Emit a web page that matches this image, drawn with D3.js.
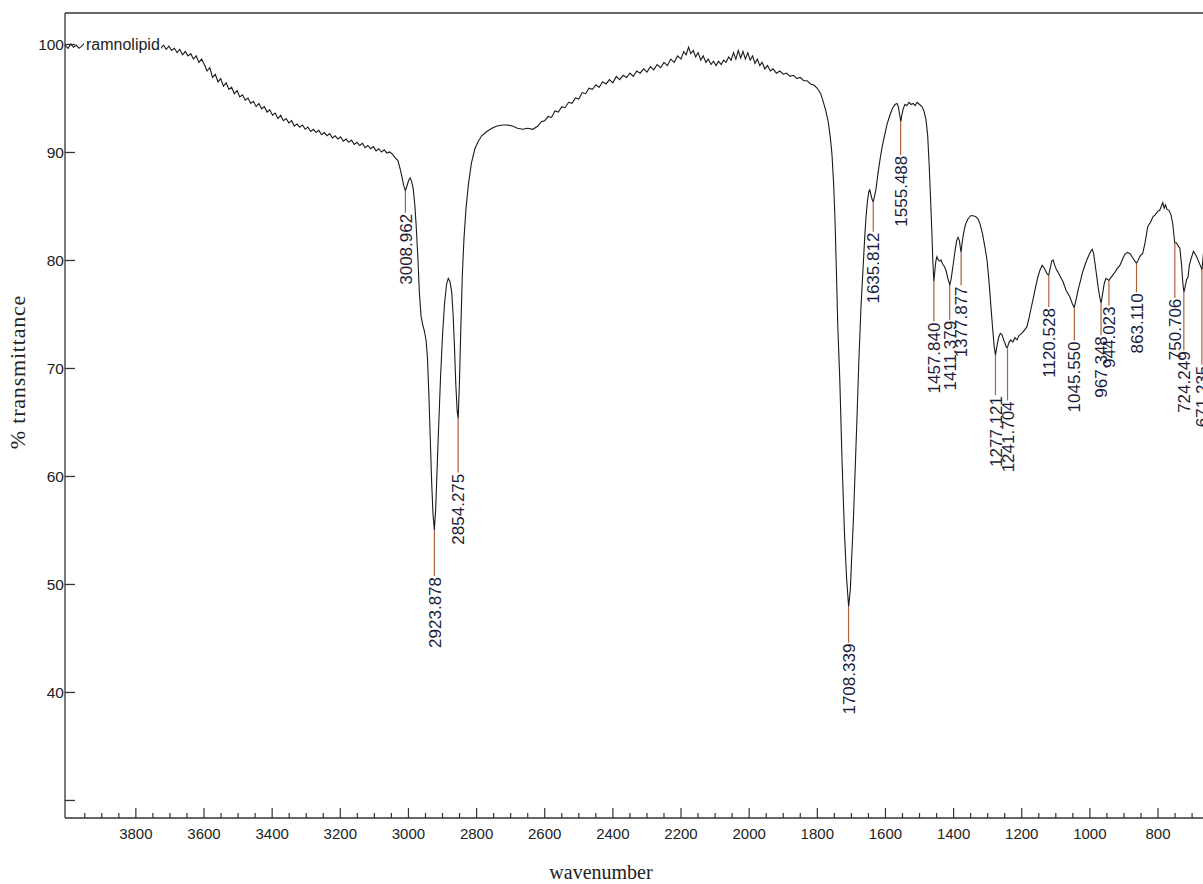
<!DOCTYPE html>
<html>
<head>
<meta charset="utf-8">
<script src="https://cdn.jsdelivr.net/npm/d3@7"></script>
<style>
  body { margin: 0; background: #fff; }
  svg { display: block; }
</style>
</head>
<body>
<div id="chart"></div>
<script>
// spectrum: [wavenumber, % transmittance]
const spectrum = [
  [4008,99.9],[3999,99.6],[3991,100.0],[3983,99.7],[3975,99.9],[3967,99.6],[3959,99.8],[3950,100.1],
  [3900,100.2],[3850,100.1],[3800,100.2],[3760,100.3],[3735,100.0],
  [3727,99.6],[3719,99.9],[3711,99.5],[3703,99.8],[3695,99.4],[3687,99.6],[3679,99.2],[3671,99.5],
  [3663,99.0],[3655,99.3],[3647,98.9],[3639,99.1],[3631,98.6],[3623,98.9],[3615,98.3],[3607,98.6],
  [3599,98.1],[3591,97.5],[3583,97.8],[3575,96.9],[3567,97.2],[3559,96.5],[3551,96.8],[3543,96.1],
  [3535,96.4],[3527,95.8],[3519,96.0],[3511,95.4],[3503,95.7],[3495,95.1],[3487,95.3],[3479,94.8],
  [3471,95.0],[3463,94.5],[3455,94.7],[3447,94.2],[3439,94.5],[3431,94.0],[3423,94.2],[3415,93.7],
  [3407,93.9],[3399,93.4],[3391,93.6],[3383,93.1],[3375,93.4],[3367,92.9],[3359,93.1],[3351,92.7],
  [3343,92.9],[3335,92.4],[3327,92.6],[3319,92.3],[3311,92.5],[3303,92.1],[3295,92.3],[3287,91.9],
  [3279,92.1],[3271,91.8],[3263,92.0],[3255,91.6],[3247,91.8],[3239,91.5],[3231,91.7],[3223,91.3],
  [3215,91.5],[3207,91.2],[3199,91.4],[3191,91.0],[3183,91.2],[3175,90.9],[3167,91.1],[3159,90.7],
  [3151,90.9],[3143,90.6],[3135,90.8],[3127,90.4],[3119,90.6],[3111,90.3],[3103,90.5],[3095,90.1],
  [3087,90.3],[3079,90.0],[3071,90.2],[3063,89.9],[3055,90.0],[3047,89.8],[3040,89.5],[3031,89.2],
  [3024,88.4],[3019,87.7],[3014,86.9],[3009,86.4],[3004,86.9],[2999,87.4],[2995,87.6],[2991,87.3],
  [2986,86.6],[2981,85.0],[2977,83.0],[2972,80.0],[2968,77.0],[2963,74.8],[2958,74.0],[2953,73.4],
  [2948,72.5],[2944,70.8],[2940,67.5],[2936,63.5],[2932,59.5],[2928,56.5],[2924,55.0],[2920,57.0],
  [2916,60.5],[2912,64.0],[2906,69.0],[2900,73.0],[2894,76.0],[2888,77.8],[2883,78.3],[2878,78.0],
  [2873,77.0],[2869,75.0],[2865,72.0],[2861,68.5],[2857,66.0],[2854,65.3],[2850,69.0],[2846,74.0],
  [2842,78.5],[2837,82.0],[2831,84.8],[2824,87.0],[2815,89.0],[2805,90.3],[2795,91.0],[2785,91.5],
  [2770,91.9],[2755,92.2],[2740,92.4],[2725,92.5],[2710,92.5],[2695,92.4],[2680,92.2],[2665,92.1],
  [2650,92.2],[2635,92.1],
  [2620,92.4],[2610,92.8],[2600,92.9],[2590,93.3],[2580,93.2],[2570,93.8],[2560,93.7],[2550,94.2],
  [2540,94.1],[2530,94.6],[2520,94.5],[2510,95.0],[2500,94.9],[2490,95.5],[2480,95.4],[2470,95.9],
  [2460,95.8],[2450,96.2],[2440,96.0],[2430,96.5],[2420,96.3],[2410,96.7],[2400,96.4],[2390,97.0],
  [2380,96.7],[2370,97.1],[2360,96.9],[2350,97.3],[2340,97.0],[2330,97.5],[2320,97.3],[2310,97.7],
  [2300,97.4],[2290,97.9],[2280,97.6],[2270,98.1],[2260,97.8],[2250,98.3],[2240,98.0],[2230,98.6],
  [2220,98.3],[2210,98.9],[2200,98.6],[2192,99.3],[2185,99.0],[2178,99.7],[2171,99.1],[2164,99.4],
  [2157,98.8],[2150,99.2],[2142,98.5],[2135,98.9],[2127,98.3],[2120,98.6],[2112,98.1],[2105,98.4],
  [2097,98.0],[2090,98.4],[2082,98.1],[2075,98.5],[2068,98.3],[2060,98.8],[2053,98.5],[2046,99.2],
  [2039,98.6],[2032,99.4],[2025,98.7],[2018,99.3],[2011,98.6],[2004,99.2],[1997,98.5],[1990,98.9],
  [1983,98.2],[1976,98.6],[1969,98.0],[1962,98.3],[1954,97.7],[1946,98.0],[1938,97.5],[1930,97.7],
  [1920,97.3],[1910,97.5],[1900,97.2],[1890,97.3],[1880,97.0],[1870,97.1],[1860,96.8],[1850,96.9],
  [1840,96.6],[1830,96.6],[1820,96.3],[1810,96.2],[1800,95.9],[1790,95.4],[1782,94.6],[1775,93.8],
  [1768,92.8],[1762,91.4],[1757,89.8],[1752,87.0],[1748,83.7],[1744,79.0],[1740,74.0],[1734,68.9],
  [1727,61.0],[1720,54.5],[1714,50.5],[1708,47.9],[1703,49.5],[1699,52.5],[1694,56.0],[1690,59.6],
  [1684,65.0],[1678,70.7],[1672,75.5],[1666,79.1],[1661,82.0],[1657,84.0],[1653,85.4],[1649,86.3],
  [1646,86.5],[1643,86.1],[1639,85.6],[1636,85.4],[1632,85.9],[1628,86.5],[1622,88.0],[1616,89.3],
  [1609,90.6],[1602,91.6],[1595,92.6],[1587,93.4],[1580,94.0],[1572,94.4],[1566,94.5],[1562,94.2],
  [1558,93.4],[1555,92.8],[1552,93.4],[1548,94.0],[1543,94.4],[1537,94.3],[1531,94.6],[1525,94.4],
  [1519,94.5],[1513,94.3],[1507,94.6],[1500,94.4],[1493,94.2],[1487,93.8],[1481,93.0],[1476,91.5],
  [1472,89.0],[1468,86.0],[1464,82.8],[1461,80.0],[1458,78.0],[1455,79.0],[1452,79.9],[1449,80.3],
  [1445,80.0],[1441,79.9],[1437,80.0],[1432,79.6],[1427,79.4],[1422,79.0],[1417,78.3],[1411,77.7],
  [1407,78.3],[1402,79.4],[1396,80.8],[1391,81.8],[1387,82.1],[1383,81.8],[1380,81.1],[1378,80.7],
  [1375,81.6],[1370,82.6],[1365,83.3],[1358,83.8],[1350,84.1],[1342,84.1],[1335,84.0],[1328,83.8],
  [1322,83.3],[1315,82.4],[1308,81.2],[1302,80.0],[1296,78.0],[1290,75.5],[1285,73.5],[1281,72.0],
  [1277,71.2],[1273,72.0],[1268,72.8],[1263,73.2],[1258,73.1],[1253,72.6],[1248,72.2],[1245,71.9],
  [1242,71.9],[1237,72.4],[1232,72.6],[1226,72.4],[1220,72.8],[1214,72.6],[1208,73.0],[1200,73.2],
  [1192,73.5],[1185,73.8],[1178,74.7],[1172,75.6],[1166,76.5],[1160,77.4],[1153,78.4],[1146,79.1],
  [1140,79.5],[1135,79.3],[1130,79.0],[1125,78.7],[1121,78.6],[1116,79.3],[1112,79.9],[1108,80.0],
  [1103,79.5],[1098,79.1],[1094,78.9],[1086,78.4],[1079,78.0],[1070,77.2],[1059,76.6],[1052,76.0],
  [1046,75.6],[1040,76.4],[1034,77.3],[1029,77.9],[1022,78.8],[1016,79.4],[1009,80.0],[1002,80.5],
  [996,80.9],[993,81.0],[989,80.6],[985,79.7],[980,78.5],[975,77.3],[970,76.4],[967,76.0],
  [963,76.8],[958,77.8],[953,78.3],[948,78.2],[944,78.1],[940,78.3],[935,78.5],[928,78.8],
  [920,79.2],[912,79.5],[905,80.0],[898,80.5],[890,80.7],[883,80.6],[876,80.3],[870,80.0],
  [866,79.8],[863,79.7],[858,80.0],[852,80.4],[845,80.6],[838,81.6],[830,83.1],[822,83.5],
  [815,84.0],[808,84.2],[801,84.5],[795,84.6],[790,85.0],[786,85.3],[782,84.8],[778,85.1],
  [774,84.7],[768,84.6],[762,84.2],[757,83.4],[753,82.2],[751,81.6],[746,81.6],[741,81.3],
  [736,81.1],[731,79.6],[727,77.8],[724,77.0],[720,77.6],[716,78.2],[712,78.4],[708,79.5],
  [704,80.0],[700,80.4],[696,80.8],[692,80.6],[688,80.4],[684,80.1],[680,79.8],[676,79.5],
  [671,79.1],[667,80.5],[664,81.5]
];

// picked peaks
const peakLabels = ['3008.962','2923.878','2854.275','1708.339','1635.812','1555.488','1457.840',
  '1411.379','1377.877','1277.121','1241.704','1120.528','1045.550','967.348','944.023',
  '863.110','750.706','724.249','671.235'];
const peakT = [86.4,55.0,65.3,47.9,85.4,92.8,78.0,77.7,80.7,71.2,71.9,78.6,75.6,76.0,78.1,79.7,81.6,77.0,79.1];
// leader length in px under each peak
const leader = [22,46,54,36,30,33,40,35,33,40,53,32,33,32,25,29,55,58,95];

const yTicks = [30, 40, 50, 60, 70, 80, 90, 100];
const xMajor = [3800, 3600, 3400, 3200, 3000, 2800, 2600, 2400, 2200, 2000, 1800, 1600, 1400, 1200, 1000, 800];
const seriesName = 'ramnolipid';

const width = 1203, height = 884;
const plotL = 65, plotR = 1203, plotT = 13, plotB = 818;

const svg = d3.select('#chart').append('svg')
  .attr('width', width)
  .attr('height', height);

const x = d3.scaleLinear().domain([4008, 668]).range([plotL, plotR]);
const y = d3.scaleLinear().domain([28.33, 102.87]).range([plotB, plotT]);

// frame
svg.append('line').attr('x1', plotL).attr('x2', plotR).attr('y1', plotT).attr('y2', plotT)
  .attr('stroke', '#333').attr('stroke-width', 1.3);

// y axis
const yAxis = svg.append('g').attr('transform', `translate(${plotL},0)`)
  .call(d3.axisRight(y).tickValues(yTicks).tickSize(10).tickFormat(''));
yAxis.select('.domain').attr('d', `M0,${plotT}V${plotB}`).attr('stroke', '#333').attr('stroke-width', 1.3);
yAxis.selectAll('.tick line').attr('stroke', '#333').attr('stroke-width', 1.3);

svg.selectAll('.ylab').data(yTicks.filter(d => d >= 40)).enter().append('text')
  .attr('x', plotL - 1).attr('y', d => y(d))
  .attr('dy', '0.36em')
  .attr('text-anchor', 'end')
  .attr('font-family', 'Liberation Sans, Arial, sans-serif')
  .attr('font-size', 15.5)
  .attr('fill', '#222')
  .text(d => d);

// x axis, ticks pointing up
const xMinor = d3.range(4000, 650, -50).filter(d => d % 200 !== 0);
const xAxis = svg.append('g').attr('transform', `translate(0,${plotB})`);
xAxis.append('line').attr('x1', plotL).attr('x2', plotR).attr('y1', 0).attr('y2', 0)
  .attr('stroke', '#333').attr('stroke-width', 1.3);
xAxis.selectAll('.minor').data(xMinor).enter().append('line')
  .attr('x1', d => x(d)).attr('x2', d => x(d)).attr('y1', 0).attr('y2', -5)
  .attr('stroke', '#333').attr('stroke-width', 1.2);
xAxis.selectAll('.major').data(xMajor).enter().append('line')
  .attr('x1', d => x(d)).attr('x2', d => x(d)).attr('y1', 0).attr('y2', -10)
  .attr('stroke', '#333').attr('stroke-width', 1.2);
xAxis.selectAll('text').data(xMajor).enter().append('text')
  .attr('x', d => x(d)).attr('y', 21)
  .attr('text-anchor', 'middle')
  .attr('font-family', 'Liberation Sans, Arial, sans-serif')
  .attr('font-size', 15)
  .attr('fill', '#222')
  .text(d => d);

// axis titles
svg.append('text')
  .attr('transform', `translate(25,372) rotate(-90)`)
  .attr('text-anchor', 'middle')
  .attr('font-family', 'Liberation Serif, Times New Roman, serif')
  .attr('font-size', 22)
  .attr('letter-spacing', 0.8)
  .attr('fill', '#222')
  .text('% transmittance');

svg.append('text')
  .attr('x', 601).attr('y', 879)
  .attr('text-anchor', 'middle')
  .attr('font-family', 'Liberation Serif, Times New Roman, serif')
  .attr('font-size', 20)
  .attr('fill', '#222')
  .text('wavenumber');

// spectrum trace
const line = d3.line().x(d => x(d[0])).y(d => y(d[1]));
svg.append('path')
  .datum(spectrum)
  .attr('d', line)
  .attr('fill', 'none')
  .attr('stroke', '#1a1a1a')
  .attr('stroke-width', 1.1);

// series name sits on top of the trace
const nameG = svg.append('g');
nameG.append('rect')
  .attr('x', 84).attr('y', 34).attr('width', 77).attr('height', 20)
  .attr('fill', '#fff');
nameG.append('text')
  .attr('x', 86).attr('y', 50)
  .attr('font-family', 'Liberation Sans, Arial, sans-serif')
  .attr('font-size', 16)
  .attr('fill', '#222')
  .text(seriesName);

// peak markers
const peaks = peakLabels.map((lab, i) => ({ lab, w: +lab, t: peakT[i], drop: leader[i] }));
const pg = svg.selectAll('.peak').data(peaks).enter().append('g');
pg.append('line')
  .attr('x1', d => x(d.w)).attr('x2', d => x(d.w))
  .attr('y1', d => y(d.t)).attr('y2', d => y(d.t) + d.drop)
  .attr('stroke', '#b0603a').attr('stroke-width', 1.2);
pg.append('text')
  .attr('transform', d => `translate(${x(d.w)},${y(d.t) + d.drop + 1}) rotate(-90)`)
  .attr('text-anchor', 'end')
  .attr('dy', '0.36em')
  .attr('font-family', 'Liberation Sans, Arial, sans-serif')
  .attr('font-size', 17)
  .attr('fill', '#1c1c3a')
  .text(d => d.lab);
</script>
</body>
</html>
